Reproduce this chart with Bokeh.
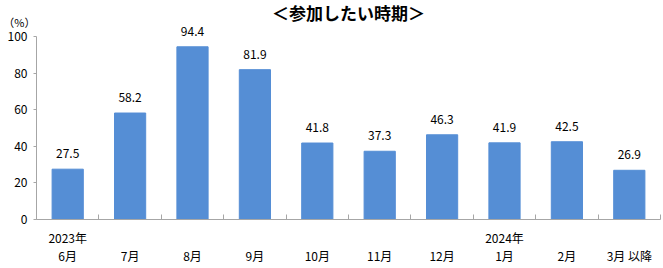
from bokeh.plotting import figure
from bokeh.models import FixedTicker, LinearAxis, Range1d, Label
from bokeh.embed import file_html
from bokeh.resources import INLINE

title = "＜参加したい時期＞"
unit = "（%）"
months = ["6月", "7月", "8月", "9月", "10月", "11月", "12月", "1月", "2月", "3月 以降"]
years = {0: "2023年", 7: "2024年"}
values = [27.5, 58.2, 94.4, 81.9, 41.8, 37.3, 46.3, 41.9, 42.5, 26.9]
y_ticks = [0, 20, 40, 60, 80, 100]

FONT = "Noto Sans CJK JP"
BAR = "#558ED5"
AXIS = "#A6A6A6"

n = len(values)
xs = [i + 0.5 for i in range(n)]
Y_TOP = 119.7  # data value at top edge of the canvas

p = figure(width=663, height=268, output_backend="svg", toolbar_location=None,
           x_range=Range1d(0, n), y_range=Range1d(0, Y_TOP),
           min_border_left=36, min_border_right=3, min_border_top=0, min_border_bottom=49,
           x_axis_type=None)
p.outline_line_color = None
p.xgrid.grid_line_color = None
p.ygrid.grid_line_color = None
p.background_fill_color = "white"
p.border_fill_color = "white"

p.vbar(x=xs, top=values, width=0.5, fill_color=BAR, line_color=BAR)

for x, v in zip(xs, values):
    p.add_layout(Label(x=x, y=v, text=f"{v:.1f}", text_align="center",
                       text_baseline="bottom", y_offset=11, text_font=FONT,
                       text_font_size="12px", text_color="black"))

p.add_layout(Label(x=n / 2, y=113.4, text=title, text_align="center",
                   text_baseline="middle", text_font=FONT, text_font_size="17px",
                   text_line_height=1.0,
                   text_font_style="bold", text_color="black"))

# y axis
ya = p.yaxis[0]
ya.ticker = FixedTicker(ticks=y_ticks)
ya.bounds = (0, 100)
ya.axis_line_color = AXIS
ya.major_tick_line_color = AXIS
ya.major_tick_in = 0
ya.major_tick_out = 3
ya.minor_tick_line_color = None
ya.major_label_text_font = FONT
ya.major_label_text_font_size = "12px"
ya.major_label_text_color = "black"
ya.major_label_standoff = 6

# unit label, as a second left axis with one labelled tick
ua = LinearAxis(ticker=FixedTicker(ticks=[108.2], minor_ticks=[]),
                major_label_overrides={108.2: unit})
ua.axis_line_color = None
ua.major_tick_line_color = None
ua.minor_tick_line_color = None
ua.major_tick_in = 0
ua.major_tick_out = 0
ua.major_label_text_font = FONT
ua.major_label_text_font_size = "11px"
ua.major_label_text_color = "black"
ua.major_label_standoff = -31
p.add_layout(ua, "left")

# main x axis: boundary ticks (as minor ticks) + year labels
year_ticks = [k + 0.5 for k in years]
xa = LinearAxis(ticker=FixedTicker(ticks=year_ticks, minor_ticks=list(range(n + 1))),
                major_label_overrides={t: years[int(t - 0.5)] for t in year_ticks})
xa.axis_line_color = AXIS
xa.major_tick_line_color = None
xa.major_tick_in = 0
xa.major_tick_out = 0
xa.minor_tick_line_color = AXIS
xa.minor_tick_in = 5
xa.minor_tick_out = 0
xa.major_label_text_font = FONT
xa.major_label_text_font_size = "12px"
xa.major_label_text_color = "black"
xa.major_label_standoff = 9
p.add_layout(xa, "below")

# month labels axis
xm = LinearAxis(ticker=FixedTicker(ticks=xs, minor_ticks=[]),
                major_label_overrides={t: m for t, m in zip(xs, months)})
xm.axis_line_color = None
xm.major_tick_line_color = None
xm.minor_tick_line_color = None
xm.major_tick_in = 0
xm.major_tick_out = 0
xm.major_label_text_font = FONT
xm.major_label_text_font_size = "12px"
xm.major_label_text_color = "black"
xm.major_label_standoff = -2
p.add_layout(xm, "below")

open("out.html", "w").write(file_html(p, INLINE))
